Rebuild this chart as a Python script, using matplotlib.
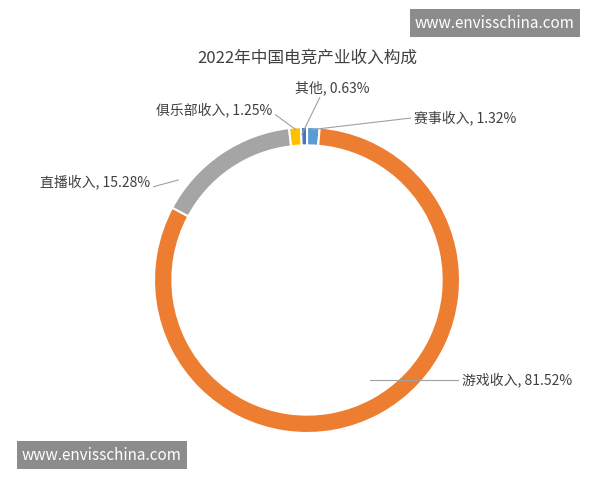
import matplotlib
matplotlib.use("Agg")
import matplotlib.pyplot as plt

plt.rcParams['font.family'] = ['Noto Sans CJK SC', 'DejaVu Sans']

labels = ['赛事收入', '游戏收入', '直播收入', '俱乐部收入', '其他']
values = [1.32, 81.52, 15.28, 1.25, 0.63]
colors = ['#5B9BD5', '#ED7D31', '#A5A5A5', '#FFC000', '#4472C4']

fig = plt.figure(figsize=(6, 4.8), dpi=100)
ax = fig.add_axes([0.2567, 0.0979, 0.51, 0.6375])
wedges, _ = ax.pie(values, colors=colors, startangle=90, counterclock=False,
                   wedgeprops=dict(width=0.12, edgecolor='white', linewidth=1.5))
ax.set_xlim(-1, 1)
ax.set_ylim(-1, 1)
ax.set_aspect('equal')

fig.text(0.512, 0.878, '2022年中国电竞产业收入构成', ha='center', va='center', fontsize=12, color='#404040')

ann = [
    (0, (0.69, 0.754), (0.52, 0.73), 'left'),
    (1, (0.77, 0.208), (0.617, 0.208), 'left'),
    (2, (0.25, 0.621), (0.297, 0.625), 'right'),
    (3, (0.453, 0.771), (0.493, 0.73), 'right'),
    (4, (0.553, 0.817), (0.503, 0.72), 'center'),
]
for i, (tx, ty), (px, py), ha in ann:
    txt = f'{labels[i]}, {values[i]:.2f}%'
    fig.text(tx, ty, txt, ha=ha, va='center', fontsize=10, color='#404040')
    if ha == 'left':
        lx, ly = tx - 0.006, ty
    elif ha == 'right':
        lx, ly = tx + 0.006, ty - 0.01
    else:
        lx, ly = tx - 0.02, ty - 0.02
    fig.add_artist(plt.Line2D([lx, px], [ly, py], color='#A0A0A0', lw=0.8, transform=fig.transFigure))

fig.text(0.825, 0.952, 'www.envisschina.com', ha='center', va='center', fontsize=11, color='white',
         bbox=dict(boxstyle='square,pad=0.35', fc='#8C8C8C', ec='none'))
fig.text(0.17, 0.052, 'www.envisschina.com', ha='center', va='center', fontsize=11, color='white',
         bbox=dict(boxstyle='square,pad=0.35', fc='#8C8C8C', ec='none'))

fig.savefig('out.png', dpi=100)
